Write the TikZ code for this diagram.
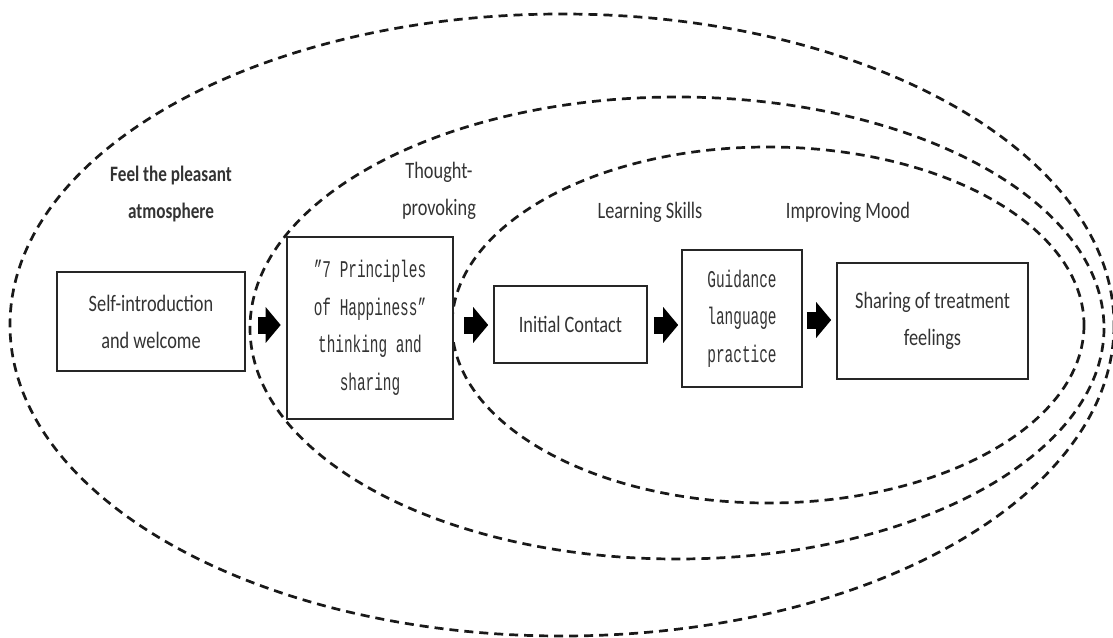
\documentclass[tikz,border=0pt]{standalone}
\usepackage{fontspec}
\usetikzlibrary{arrows.meta,calc}
\newfontfamily\lblfont[FakeStretch=0.78]{Carlito}
\newfontfamily\boxmono[FakeStretch=0.6]{Liberation Mono}
\definecolor{txt}{HTML}{333333}
\tikzset{
  ring/.style={draw=black!90, line width=2.7pt, dash pattern=on 9pt off 6pt},
  box/.style={draw=black!85, line width=1.6pt, fill=white, inner sep=0pt, align=center,
    text=txt, font=\lblfont\fontsize{23.5}{37}\selectfont},
  monobox/.style={box, font=\boxmono\fontsize{24}{37.5}\selectfont},
  lbl/.style={text=txt, align=center, font=\lblfont\fontsize{23.5}{37}\selectfont},
  blockarrow/.style={line width=17pt, draw=black, -{Triangle[length=15pt,width=35pt]}}
}
\begin{document}
\begin{tikzpicture}[x=1pt,y=-1pt]
\useasboundingbox (0,0) rectangle (1113,637);
% rings
\draw[ring] (562,325) ellipse [x radius=552, y radius=311];
\draw[ring] (677,328) ellipse [x radius=427, y radius=231];
\draw[ring] (768,325) ellipse [x radius=316, y radius=178];
% labels
\node[lbl, font=\lblfont\bfseries\fontsize{22}{37}\selectfont] (l1) at (171,194) {Feel the pleasant\\atmosphere};
\node[lbl] (l2) at (439,191) {Thought-\\provoking};
\node[lbl] (l3) at (650,212) {Learning Skills};
\node[lbl] (l4) at (848,212) {Improving Mood};
% boxes
\node[box, minimum width=188pt, minimum height=99pt] (b1) at (151,321.5) {Self-introduction\\and welcome};
\node[monobox, line width=2.6pt, minimum width=166pt, minimum height=182pt] (b2) at (370,328) {”7 Principles\\of Happiness”\\thinking and\\sharing};
\node[box, minimum width=153pt, minimum height=77pt] (b3) at (570.5,324.5) {Initial Contact};
\node[monobox, minimum width=120pt, minimum height=137pt] (b4) at (742,318.5) {Guidance\\language\\practice};
\node[box, minimum width=191pt, minimum height=116pt] (b5) at (932.5,321) {Sharing of treatment\\feelings};
% arrows
\draw[blockarrow] ($(b1.east |- 0,325)+(12,0)$) -- ($(b2.west |- 0,325)+(-5,0)$);
\draw[blockarrow] ($(b2.east |- 0,325)+(10,0)$) -- ($(b3.west |- 0,325)+(-5,0)$);
\draw[blockarrow] ($(b3.east |- 0,325)+(6,0)$) -- ($(b4.west |- 0,325)+(-3,0)$);
\draw[blockarrow] ($(b4.east |- 0,320)+(4,0)$) -- ($(b5.west |- 0,320)+(-5,0)$);
\end{tikzpicture}
\end{document}
